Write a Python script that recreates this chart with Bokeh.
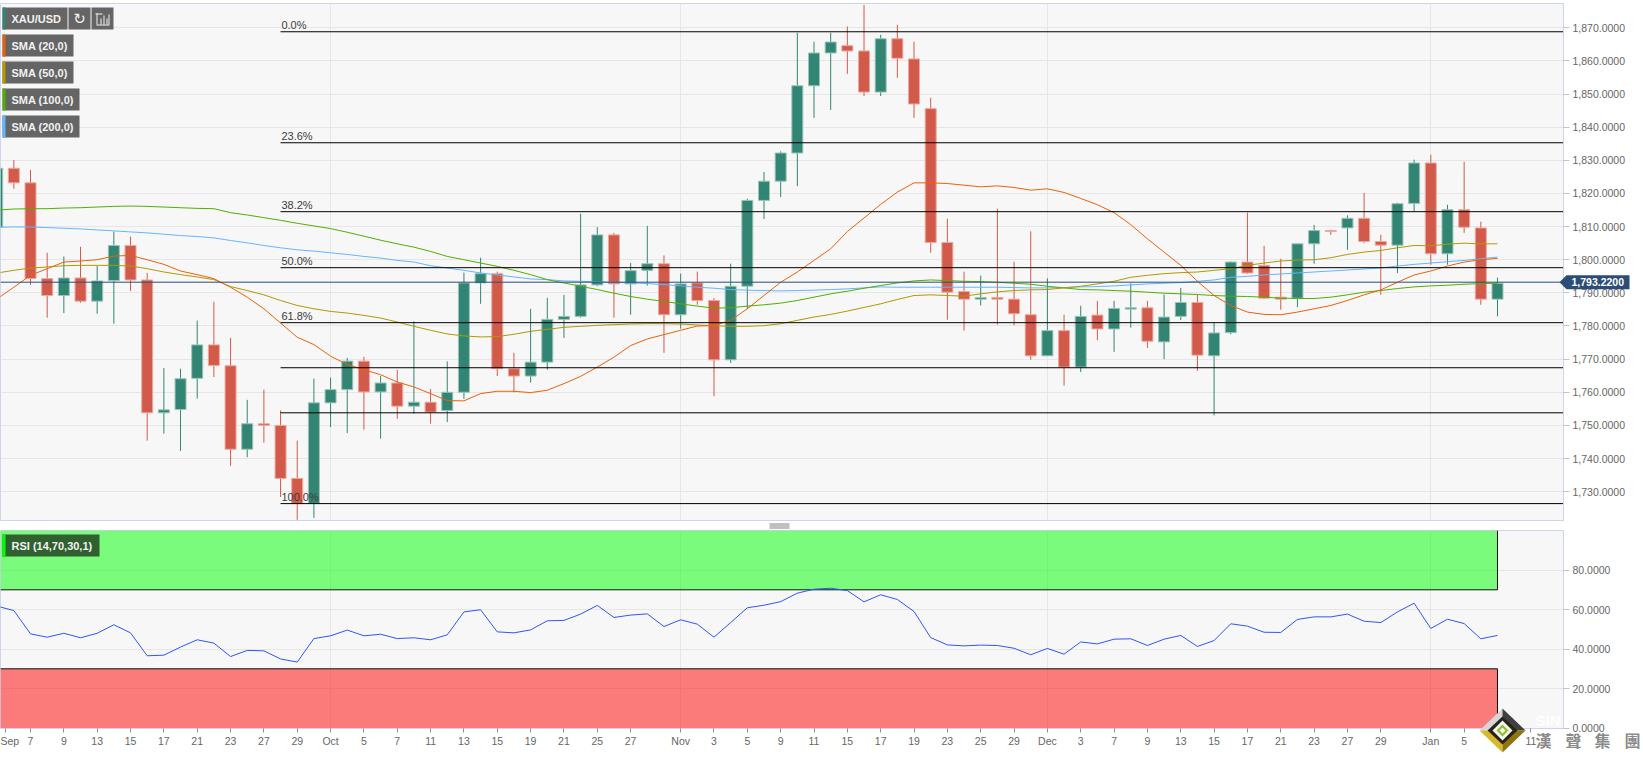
from bokeh.core.properties import value
from bokeh.embed import file_html
from bokeh.layouts import column
from bokeh.models import (BoxAnnotation, ColumnDataSource, FixedTicker, Label, NumeralTickFormatter,
                          Range1d, Span)
from bokeh.plotting import figure
from bokeh.resources import INLINE

OPEN = [1809.8, 1827.6, 1823.2, 1794.3, 1789.2, 1794.5, 1787.5, 1793.7, 1804.3, 1793.9,
        1753.8, 1754.8, 1764.2, 1774.3, 1768.0, 1742.8, 1750.5, 1750.0, 1734.0, 1726.4,
        1756.8, 1760.8, 1769.4, 1760.1, 1762.8, 1755.8, 1757.0, 1754.5, 1760.0, 1793.0,
        1795.8, 1767.1, 1764.9, 1769.1, 1782.0, 1782.9, 1792.4, 1807.5, 1792.7, 1796.8,
        1798.8, 1783.4, 1793.0, 1787.7, 1769.8, 1792.0, 1817.9, 1823.7, 1832.2, 1852.5,
        1862.4, 1864.6, 1863.0, 1850.6, 1866.7, 1860.6, 1845.6, 1805.2, 1790.4, 1788.1,
        1788.6, 1788.1, 1783.4, 1771.0, 1778.6, 1767.6, 1783.3, 1779.1, 1785.1, 1785.5,
        1775.2, 1782.9, 1787.1, 1771.0, 1778.0, 1799.3, 1798.3, 1788.7, 1788.4, 1804.8,
        1808.8, 1809.6, 1812.5, 1805.5, 1804.4, 1817.0, 1829.2, 1801.8, 1815.1, 1809.6, 1788.1]
HIGH = [1829.0, 1830.1, 1827.1, 1802.1, 1801.0, 1803.9, 1798.1, 1808.5, 1807.0, 1796.0,
        1767.3, 1767.1, 1781.6, 1787.3, 1776.4, 1757.7, 1760.8, 1754.5, 1745.4, 1764.1,
        1764.4, 1770.4, 1770.7, 1764.9, 1766.8, 1781.4, 1761.0, 1769.3, 1796.1, 1800.6,
        1796.4, 1771.9, 1785.2, 1788.5, 1789.4, 1813.9, 1809.8, 1808.1, 1799.0, 1810.2,
        1801.3, 1795.8, 1796.4, 1788.4, 1798.8, 1818.4, 1826.5, 1832.7, 1868.5, 1865.8,
        1868.5, 1870.4, 1876.9, 1867.9, 1870.9, 1865.8, 1848.9, 1812.4, 1796.4, 1795.2,
        1815.4, 1799.4, 1808.6, 1794.4, 1783.4, 1786.1, 1787.6, 1787.6, 1792.9, 1787.6,
        1789.5, 1791.5, 1789.5, 1781.0, 1799.5, 1814.2, 1804.2, 1800.3, 1804.8, 1810.5,
        1809.1, 1813.4, 1820.2, 1807.5, 1817.2, 1830.2, 1831.7, 1816.6, 1829.6, 1811.5, 1794.6]
LOW = [1805.0, 1821.4, 1792.4, 1782.5, 1783.9, 1787.0, 1783.7, 1780.7, 1790.6, 1745.4,
       1747.5, 1742.3, 1758.1, 1764.6, 1737.8, 1740.4, 1744.8, 1728.4, 1721.5, 1722.1,
       1749.5, 1747.7, 1748.7, 1746.0, 1752.0, 1753.5, 1750.5, 1751.0, 1758.0, 1786.7,
       1764.9, 1760.0, 1762.9, 1766.8, 1776.4, 1782.5, 1792.0, 1782.5, 1783.4, 1792.2,
       1771.9, 1779.2, 1786.4, 1758.8, 1768.9, 1785.2, 1812.3, 1818.9, 1822.2, 1842.8,
       1845.2, 1856.1, 1849.4, 1849.4, 1854.9, 1842.8, 1802.1, 1781.9, 1778.6, 1786.2,
       1780.4, 1780.2, 1769.8, 1771.0, 1762.0, 1766.1, 1775.7, 1772.2, 1779.5, 1773.4,
       1770.0, 1781.8, 1766.5, 1753.0, 1777.5, 1795.8, 1788.1, 1784.9, 1785.7, 1798.8,
       1807.5, 1803.0, 1805.0, 1789.4, 1796.0, 1814.6, 1798.5, 1798.5, 1808.1, 1786.4, 1782.9]
CLOSE = [1827.6, 1823.2, 1794.3, 1789.2, 1794.5, 1787.5, 1793.6, 1804.3, 1793.9, 1753.8,
         1754.7, 1764.1, 1774.3, 1768.1, 1742.8, 1750.5, 1750.0, 1734.0, 1726.4, 1756.8,
         1760.8, 1769.4, 1760.1, 1762.8, 1755.8, 1757.0, 1754.0, 1760.0, 1793.0, 1795.8,
         1767.1, 1764.9, 1769.1, 1782.0, 1782.9, 1792.4, 1807.5, 1792.7, 1796.7, 1798.8,
         1783.4, 1792.7, 1787.7, 1769.8, 1792.0, 1817.9, 1823.7, 1832.2, 1852.5, 1862.4,
         1865.7, 1863.0, 1850.6, 1866.7, 1860.8, 1847.0, 1805.2, 1790.2, 1788.1, 1788.6,
         1788.1, 1783.7, 1771.0, 1778.6, 1767.6, 1782.9, 1779.1, 1785.3, 1785.5, 1775.4,
         1782.7, 1787.1, 1771.2, 1777.9, 1799.3, 1796.0, 1788.4, 1788.1, 1804.8, 1808.8,
         1808.5, 1812.5, 1805.5, 1804.4, 1816.9, 1829.2, 1801.8, 1815.1, 1809.8, 1788.1, 1792.9]

SMA20 = [1788.2, 1791.7, 1795.3, 1797.3, 1799.3, 1799.6, 1800.0, 1801.1, 1801.3, 1800.0,
         1798.6, 1796.6, 1795.5, 1794.3, 1791.7, 1788.7, 1785.2, 1780.9, 1776.6, 1774.4,
         1770.9, 1768.4, 1766.8, 1765.3, 1763.1, 1761.6, 1759.6, 1757.5, 1757.4, 1759.6,
         1760.3, 1760.3, 1759.9, 1760.6, 1762.6, 1764.8, 1767.6, 1770.6, 1774.1, 1776.1,
         1777.4, 1778.7, 1780.0, 1780.1, 1781.7, 1785.2, 1789.2, 1793.2, 1796.3, 1799.8,
         1803.3, 1808.5, 1812.6, 1816.7, 1820.4, 1823.2, 1823.2, 1823.0, 1822.5, 1822.0,
         1822.3, 1821.8, 1821.0, 1821.4, 1820.3, 1818.5, 1816.6, 1814.2, 1810.6, 1806.3,
         1802.3, 1798.3, 1793.5, 1789.2, 1786.2, 1784.2, 1783.5, 1783.4, 1784.2, 1785.2,
         1786.2, 1787.7, 1789.4, 1790.9, 1793.2, 1795.4, 1796.6, 1798.1, 1799.3, 1800.0, 1800.4]
SMA50 = [1796.0, 1796.8, 1797.5, 1797.8, 1798.2, 1798.3, 1798.3, 1798.3, 1798.1, 1797.3,
         1796.3, 1795.5, 1794.8, 1794.0, 1791.9, 1790.7, 1789.4, 1787.7, 1786.2, 1785.2,
         1784.4, 1783.9, 1783.2, 1782.4, 1781.2, 1779.9, 1778.7, 1777.6, 1777.0, 1776.7,
         1776.8, 1777.5, 1778.4, 1779.0, 1779.6, 1779.9, 1780.2, 1780.4, 1780.6, 1780.7,
         1780.7, 1780.6, 1780.3, 1780.1, 1779.9, 1779.9, 1780.1, 1780.7, 1781.7, 1782.7,
         1783.5, 1784.5, 1785.6, 1786.7, 1788.0, 1789.2, 1789.4, 1789.2, 1789.0, 1789.7,
         1790.3, 1790.7, 1790.9, 1791.0, 1791.5, 1792.0, 1792.7, 1793.5, 1794.7, 1795.3,
         1795.8, 1796.1, 1796.3, 1796.8, 1797.3, 1798.3, 1799.0, 1799.6, 1799.9, 1800.0,
         1800.6, 1801.6, 1802.3, 1802.8, 1803.6, 1804.3, 1804.2, 1804.7, 1805.0, 1804.8, 1804.8]
SMA100 = [1815.0, 1815.3, 1815.4, 1815.4, 1815.6, 1815.7, 1815.9, 1816.1, 1816.2, 1816.1,
          1815.9, 1815.7, 1815.5, 1815.4, 1814.2, 1813.5, 1812.7, 1811.9, 1811.0, 1810.2,
          1809.4, 1808.3, 1807.1, 1805.9, 1804.8, 1803.8, 1802.5, 1801.0, 1800.0, 1799.0,
          1798.0, 1796.8, 1795.5, 1794.0, 1793.0, 1792.0, 1791.0, 1789.9, 1788.9, 1788.1,
          1787.4, 1786.7, 1786.0, 1785.4, 1785.5, 1786.0, 1786.4, 1786.9, 1787.7, 1788.7,
          1789.7, 1790.5, 1791.4, 1792.2, 1793.0, 1793.6, 1793.9, 1793.7, 1793.5, 1793.4,
          1793.2, 1792.9, 1792.6, 1792.0, 1791.5, 1791.0, 1790.9, 1790.7, 1790.5, 1790.2,
          1789.9, 1789.7, 1789.5, 1789.2, 1789.0, 1788.9, 1788.7, 1788.4, 1788.3, 1788.3,
          1788.7, 1789.4, 1790.2, 1790.7, 1791.3, 1791.8, 1792.1, 1792.3, 1792.6, 1792.8, 1792.9]
SMA200 = [1809.8, 1809.9, 1809.9, 1809.7, 1809.5, 1809.3, 1809.0, 1808.7, 1808.4, 1808.1,
          1807.7, 1807.3, 1807.0, 1806.6, 1805.8, 1805.1, 1804.3, 1803.6, 1803.0, 1802.6,
          1802.1, 1801.6, 1801.0, 1800.5, 1799.8, 1799.3, 1798.2, 1797.5, 1796.8, 1796.0,
          1795.4, 1794.8, 1794.2, 1794.0, 1793.6, 1793.5, 1793.3, 1793.2, 1793.0, 1792.8,
          1792.5, 1792.1, 1791.7, 1791.4, 1791.0, 1790.8, 1790.7, 1790.6, 1790.7, 1790.8,
          1791.0, 1791.2, 1791.5, 1791.8, 1791.7, 1791.7, 1791.7, 1791.7, 1791.7, 1791.7,
          1791.7, 1791.6, 1791.5, 1791.5, 1791.6, 1791.8, 1791.9, 1792.1, 1792.4, 1792.7,
          1792.9, 1793.1, 1793.5, 1793.9, 1794.7, 1795.0, 1795.4, 1795.7, 1796.0, 1796.3,
          1796.6, 1796.9, 1797.2, 1797.5, 1798.1, 1798.6, 1799.0, 1799.4, 1799.8, 1800.3, 1800.8]
RSI = [61.7, 59.5, 47.7, 46.0, 48.0, 45.7, 48.0, 52.3, 48.2, 36.6,
       36.9, 41.0, 44.7, 43.0, 36.2, 39.3, 39.1, 35.0, 33.4, 45.3,
       46.7, 49.6, 46.7, 47.5, 45.3, 45.7, 44.7, 47.2, 58.8, 59.9,
       48.7, 48.2, 49.7, 54.3, 54.5, 57.7, 62.1, 56.0, 57.2, 57.8,
       51.4, 54.8, 52.6, 46.0, 53.4, 60.9, 62.2, 64.0, 68.3, 70.3,
       70.8, 69.6, 63.9, 67.5, 65.1, 59.0, 45.8, 42.1, 41.6, 42.0,
       41.8, 40.4, 37.1, 40.3, 37.4, 43.6, 42.6, 45.0, 45.2, 41.8,
       45.0, 46.9, 41.3, 44.3, 52.8, 51.6, 48.5, 48.4, 55.0, 56.3,
       56.3, 57.7, 54.1, 53.4, 58.8, 63.2, 50.4, 55.1, 52.9, 45.2, 46.9]

FIB_LEVELS = [1868.8, 1835.3, 1814.5, 1797.6, 1781.0, 1767.4, 1753.8, 1726.4]
FIB_NAMES = ["0.0%", "23.6%", "38.2%", "50.0%", "61.8%", "", "", "100.0%"]
FIB_START = 17
LAST_PRICE = 1793.22
PRICE_TICKS = list(range(1730, 1871, 10))
RSI_TICKS = [0, 20, 40, 60, 80]
RSI_HIGH, RSI_LOW = 70, 30
DATE_TICKS = [0.5, 2, 4, 6, 8, 10, 12, 14, 16, 18, 20, 22, 24, 26, 28, 30, 32, 34, 36, 38, 41, 43, 45, 47, 49,
              51, 53, 55, 57, 59, 61, 63, 65, 67, 69, 71, 73, 75, 77, 79, 81, 83, 86, 88, 90, 92]
DATE_LABELS = ["Sep", "7", "9", "13", "15", "17", "21", "23", "27", "29", "Oct", "5", "7", "11", "13", "15", "19",
               "21", "25", "27", "Nov", "3", "5", "9", "11", "15", "17", "19", "23", "25", "29", "Dec", "3", "7",
               "9", "13", "15", "17", "21", "23", "27", "29", "Jan", "5", "7", "11"]
MONTH_TICKS = [20, 41, 63, 86]

UP, DOWN = "#338573", "#d25a4a"
UP_EDGE, DOWN_EDGE = "#9cc4b8", "#eda99f"
GRID = "#e6e6e6"
FRAME = "#cdd5ea"
BG = "#f7f7f7"
FONT = "Liberation Sans"
TEXT = "#666666"
TAG = "#2b4d78"

X_RANGE = (0.2, 93.96)
PRICE_RANGE = (1721.3, 1877.33)
PAGE_W, PAGE_H = 1643, 758
FRAME_W = 1563


def base(height, y_range, border_top, border_bottom):
    f = figure(frame_width=FRAME_W, frame_height=height, x_range=Range1d(*X_RANGE), y_range=Range1d(*y_range),
               output_backend="svg", toolbar_location=None, y_axis_location="right",
               min_border_left=0, min_border_right=PAGE_W - FRAME_W, min_border_top=border_top,
               min_border_bottom=border_bottom,
               background_fill_color=BG, border_fill_color="white", outline_line_color=FRAME)
    f.ygrid.grid_line_color = GRID
    f.xgrid.grid_line_color = GRID
    f.xgrid.ticker = FixedTicker(ticks=MONTH_TICKS)
    ax = f.yaxis[0]
    ax.axis_line_color = FRAME
    ax.major_tick_line_color = "#c4c4c4"
    ax.major_tick_in = 0
    ax.major_tick_out = 6
    ax.minor_tick_line_color = None
    ax.major_label_text_font = FONT
    ax.major_label_text_font_size = "10.5px"
    ax.major_label_text_color = TEXT
    ax.major_label_standoff = 3
    return f


main = base(517, PRICE_RANGE, 3, 10)
main.xaxis.visible = False
main.yaxis[0].ticker = FixedTicker(ticks=PRICE_TICKS)
main.ygrid.ticker = FixedTicker(ticks=PRICE_TICKS)
main.yaxis[0].formatter = NumeralTickFormatter(format="0,0.0000")

idx = list(range(len(OPEN)))
src = ColumnDataSource(dict(
    x=idx, open=OPEN, high=HIGH, low=LOW, close=CLOSE,
    top=[max(o, c) for o, c in zip(OPEN, CLOSE)],
    bottom=[min(o, c) for o, c in zip(OPEN, CLOSE)],
    color=[UP if c >= o else DOWN for o, c in zip(OPEN, CLOSE)],
    edge=[UP_EDGE if c >= o else DOWN_EDGE for o, c in zip(OPEN, CLOSE)],
))
main.segment("x", "low", "x", "high", source=src, color="color", line_width=1)
main.vbar("x", 0.66, "bottom", "top", source=src, fill_color="color", line_color="edge", line_width=1)

for values, colour in ((SMA200, "#62b6ff"), (SMA100, "#50b000"), (SMA50, "#b09a00"), (SMA20, "#e8620a")):
    main.line(idx, values, line_color=colour, line_width=1)

main.segment([FIB_START] * len(FIB_LEVELS), FIB_LEVELS, [X_RANGE[1]] * len(FIB_LEVELS), FIB_LEVELS,
             line_color="black", line_width=1)
named = [(n, v) for n, v in zip(FIB_NAMES, FIB_LEVELS) if n]
main.text([FIB_START + 0.05] * len(named), [v for _, v in named], text=[n for n, _ in named],
          text_font=value(FONT), text_font_size="11px", text_color="#3c3c3c", text_baseline="bottom", y_offset=-1)
main.add_layout(Span(location=LAST_PRICE, dimension="width", line_color=TAG, line_width=1))


def chip(f, left, right, top, colour, text, bg="#656565", bar_w=3):
    h = 22
    f.add_layout(BoxAnnotation(left=left, right=right, top=top, bottom=top + h, left_units="canvas",
                               right_units="canvas", top_units="canvas", bottom_units="canvas",
                               fill_color=bg, fill_alpha=1, line_color=None))
    if colour:
        f.add_layout(BoxAnnotation(left=left, right=left + bar_w, top=top, bottom=top + h, left_units="canvas",
                                   right_units="canvas", top_units="canvas", bottom_units="canvas",
                                   fill_color=colour, fill_alpha=1, line_color=None))
    if text:
        f.add_layout(Label(x=left + 9, y=top + 11, x_units="canvas", y_units="canvas", text=text,
                           text_font=FONT, text_font_size="11px", text_font_style="bold", text_color="#f2f2f2",
                           text_baseline="middle"))


chip(main, 2, 67, 7, UP, "XAU/USD")
chip(main, 68, 90, 7, None, "")
chip(main, 91, 113, 7, None, "")
main.add_layout(Label(x=79, y=18, x_units="canvas", y_units="canvas", text="↻", text_font="DejaVu Sans",
                      text_font_size="15px", text_color="#f2f2f2", text_align="center", text_baseline="middle"))
for l, r, t, b in ((96, 109, 24, 25), (96, 97, 13, 24), (100, 101, 18, 24), (103, 104, 15, 24), (106, 107, 18, 24),
                   (108, 109, 14, 24), (95, 102, 13, 14)):
    main.add_layout(BoxAnnotation(left=l, right=r, top=t, bottom=b, left_units="canvas", right_units="canvas",
                                  top_units="canvas", bottom_units="canvas", fill_color="#f2f2f2", fill_alpha=1,
                                  line_color=None))
chip(main, 2, 73, 34, "#e8620a", "SMA (20,0)")
chip(main, 2, 73, 61, "#b09a00", "SMA (50,0)")
chip(main, 2, 79, 88, "#50b000", "SMA (100,0)")
chip(main, 2, 79, 115, "#62b6ff", "SMA (200,0)")

rsi = base(198, (-0.23, 100.03), 0, 30)
rsi.yaxis[0].ticker = FixedTicker(ticks=RSI_TICKS)
rsi.ygrid.ticker = FixedTicker(ticks=RSI_TICKS)
rsi.yaxis[0].formatter = NumeralTickFormatter(format="0.0000")
ax = rsi.xaxis[0]
ax.ticker = FixedTicker(ticks=DATE_TICKS)
ax.major_label_overrides = {t: l for t, l in zip(DATE_TICKS, DATE_LABELS)}
ax.axis_line_color = FRAME
ax.major_tick_line_color = "#909090"
ax.major_tick_in = 0
ax.major_tick_out = 4
ax.minor_tick_line_color = None
ax.major_label_text_font = FONT
ax.major_label_text_font_size = "10.5px"
ax.major_label_text_color = TEXT
ax.major_label_standoff = 2

last = idx[-1]
rsi.quad(left=[X_RANGE[0]], right=[last], bottom=[RSI_HIGH], top=[100.03], fill_color="#00ff00", fill_alpha=0.5,
         line_color=None)
rsi.quad(left=[X_RANGE[0]], right=[last], bottom=[-0.23], top=[RSI_LOW], fill_color="#ff0000", fill_alpha=0.5,
         line_color=None)
rsi.segment([X_RANGE[0], X_RANGE[0], last, last], [RSI_HIGH, RSI_LOW, RSI_HIGH, RSI_LOW],
            [last, last, last, last], [RSI_HIGH, RSI_LOW, 100.03, -0.23], line_color="#101010", line_width=1)
rsi.line(idx, RSI, line_color="#2f55f5", line_width=1)

chip(rsi, 2, 99, 4, "#00ff00", "RSI (14,70,30,1)", bg="#305f30")

# Overlay pane in page pixels for what lies outside the two plot frames
over = figure(frame_width=PAGE_W, frame_height=PAGE_H, x_range=Range1d(0, PAGE_W), y_range=Range1d(PAGE_H, 0),
              output_backend="svg", toolbar_location=None, x_axis_location=None, y_axis_location=None,
              min_border=0, background_fill_color=None, border_fill_color=None, outline_line_color=None,
              margin=(-PAGE_H, 0, 0, 0), frame_align=False)
over.grid.visible = False

# drag handle
over.quad(left=[769] * 3, right=[789] * 3, top=[523, 525, 527], bottom=[524, 526, 528], fill_color="#808080",
          line_color=None)

# last price tag
tag_y = 3 + (PRICE_RANGE[1] - LAST_PRICE) / (PRICE_RANGE[1] - PRICE_RANGE[0]) * 517
over.patch([1559, 1566, 1629, 1629, 1566], [tag_y, tag_y - 7, tag_y - 7, tag_y + 7, tag_y + 7], fill_color=TAG,
           line_color=None)
over.text([1571], [tag_y], text=[f"{LAST_PRICE:,.4f}"], text_font=value(FONT), text_font_size="10.5px",
          text_font_style="bold", text_color="white", text_baseline="middle")

# watermark
cx, cy = 1502, 730
for xs, ys, colour in (([cx - 23, cx, cx], [cy, cy - 22, cy], "#d6d6d6"),
                       ([cx, cx + 23, cx], [cy - 22, cy, cy], "#3f3f3f"),
                       ([cx - 23, cx, cx], [cy, cy + 22, cy], "#d9b92a"),
                       ([cx, cx + 23, cx], [cy + 22, cy, cy], "#8f7412")):
    over.patch(xs, ys, fill_color=colour, line_color=None)
for rx, ry, colour in ((15, 14, "#2a2416"), (10, 10, "#f4f4f0"), (6, 6, "#8fbf2f"), (3, 3, "#f4f4f0")):
    over.patch([cx - rx, cx, cx + rx, cx], [cy, cy - ry, cy, cy + ry], fill_color=colour, line_color=None)
over.text([1543, 1573, 1602, 1632], [739] * 4, text=list("漢聲集團"), text_font=value("Noto Sans CJK TC"),
          text_font_size="16px", text_font_style="bold", text_color="#8a8a8a", text_align="center",
          text_baseline="middle")
over.text([1535], [720], text=["SIN"], text_font=value(FONT), text_font_size="15px", text_font_style="bold",
          text_color="white", text_baseline="middle")

page = column(main, rsi, over, spacing=0)
open("out.html", "w").write(file_html(page, INLINE))
